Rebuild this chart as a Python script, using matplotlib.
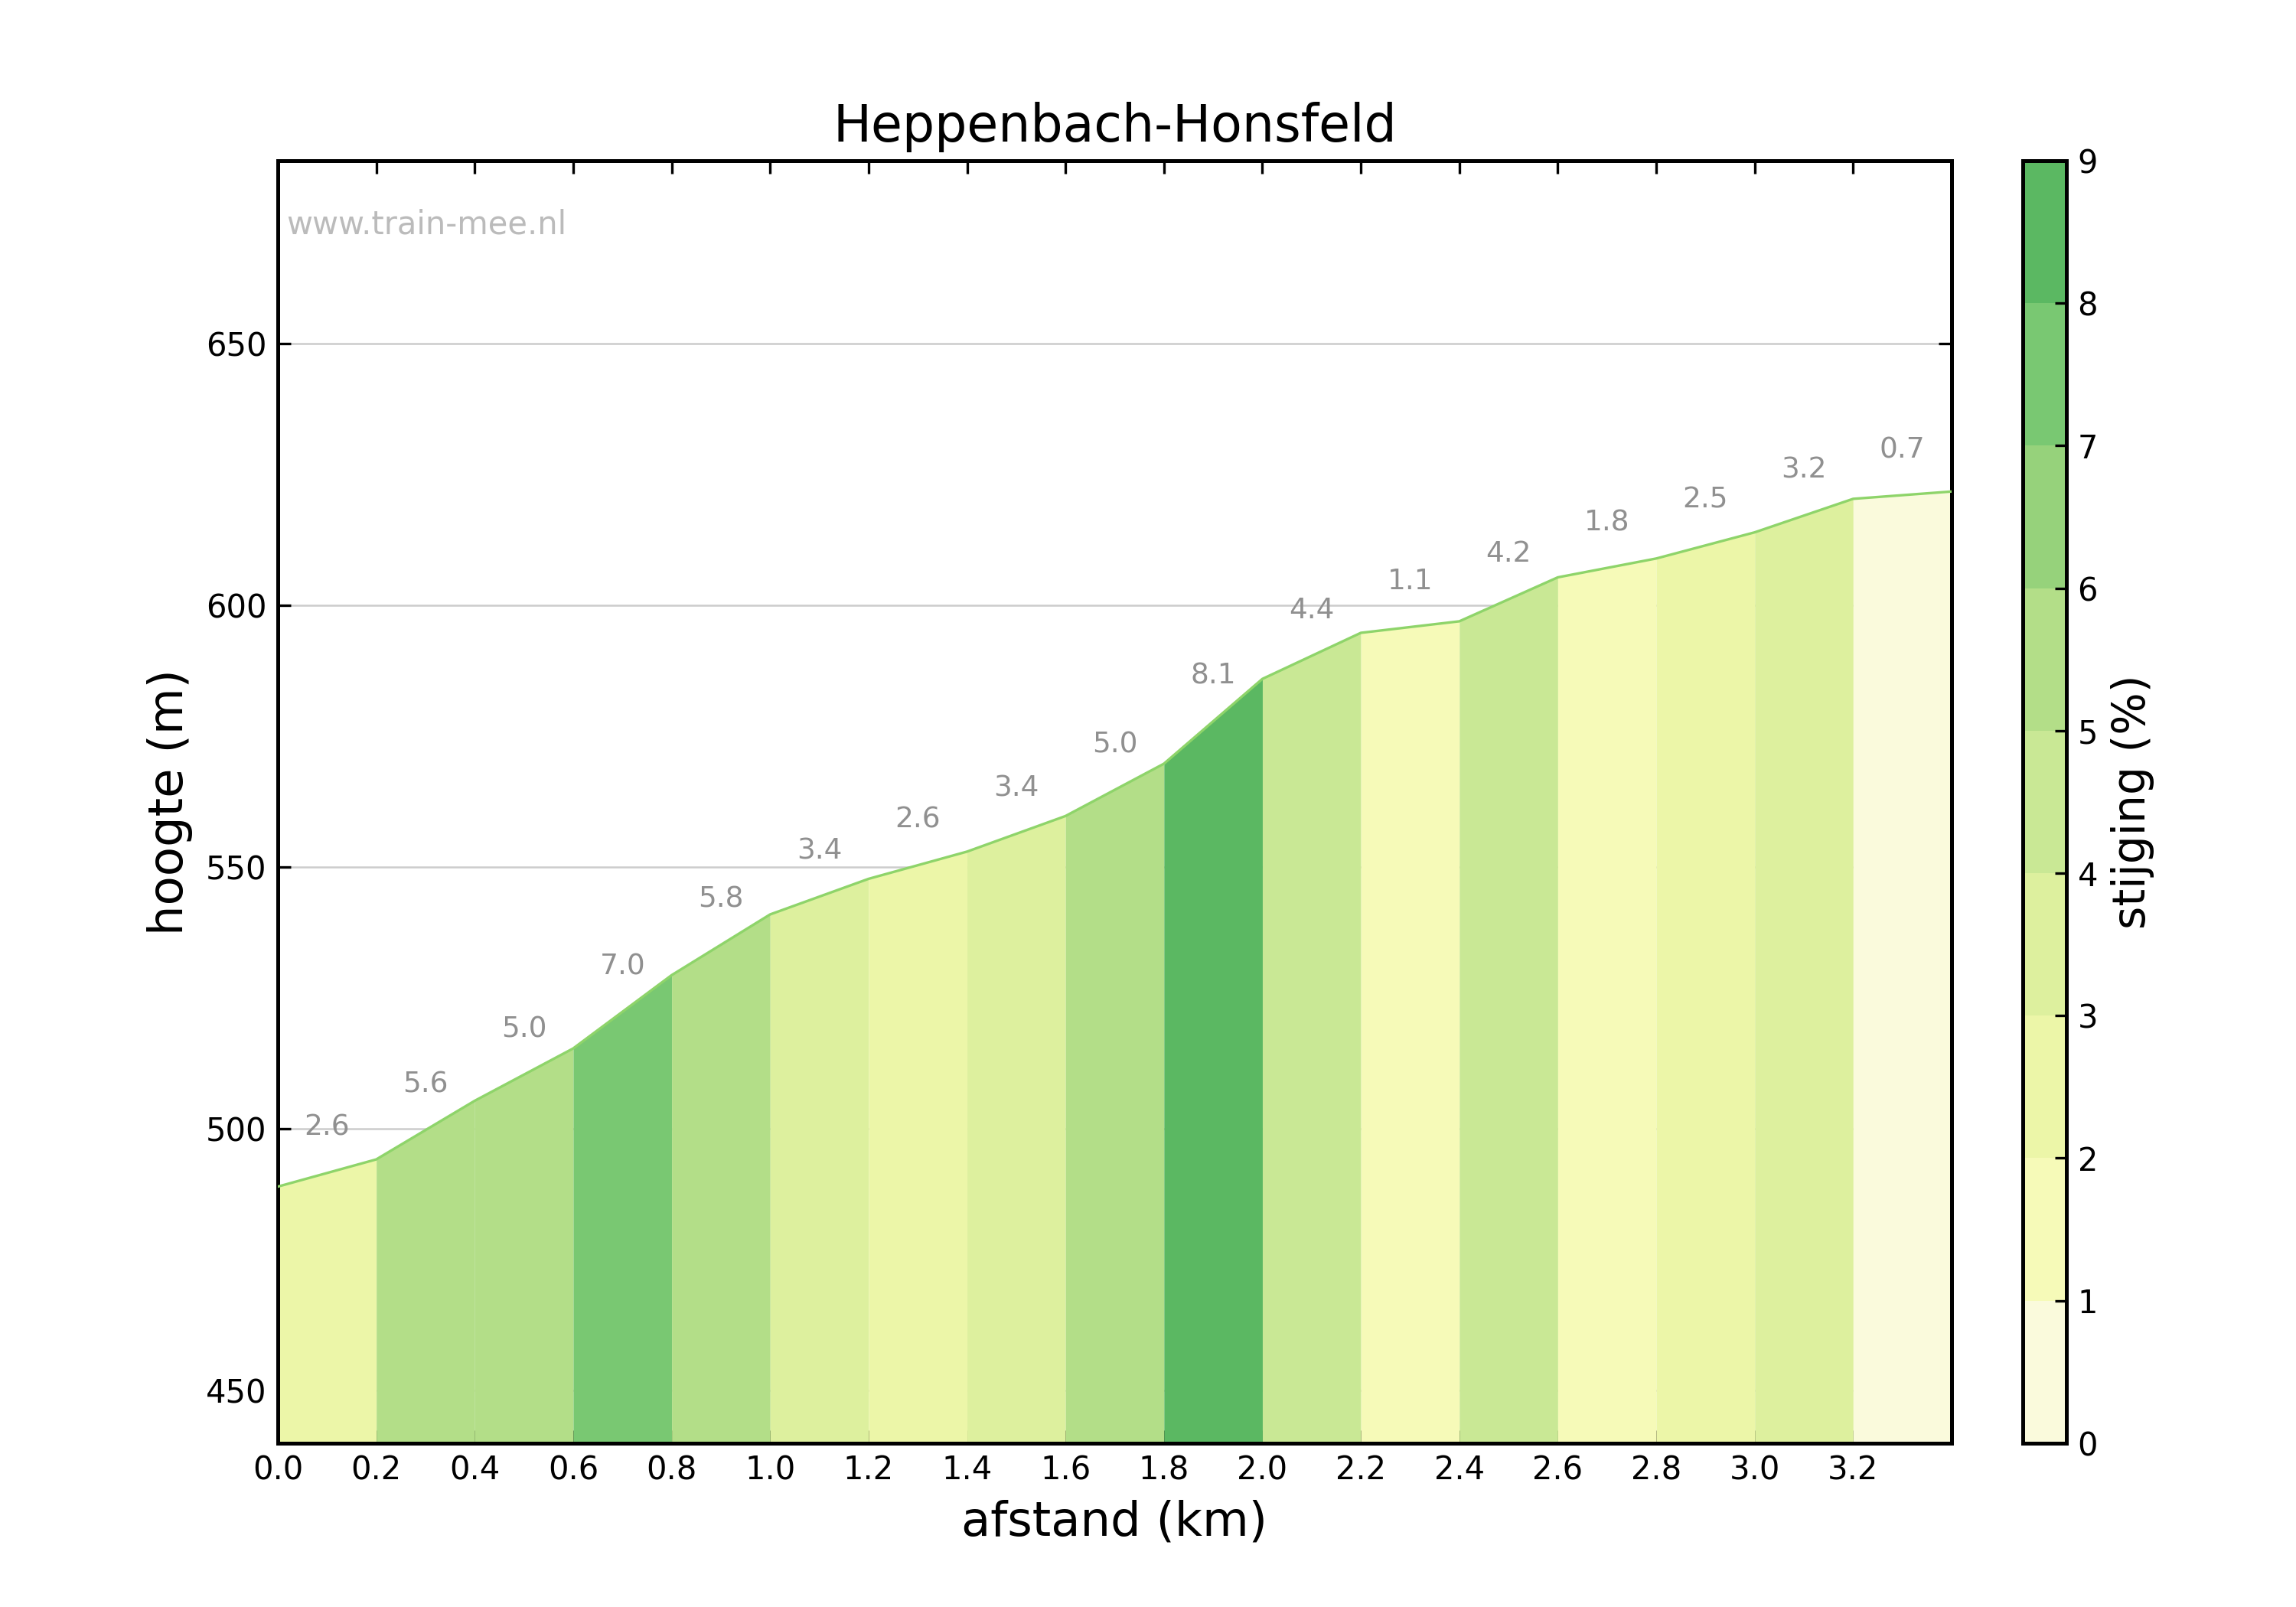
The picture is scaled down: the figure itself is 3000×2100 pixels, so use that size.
import matplotlib
matplotlib.use("Agg")
import matplotlib.pyplot as plt
from matplotlib.colors import ListedColormap, BoundaryNorm
from matplotlib.colorbar import ColorbarBase

dist = [0.0, 0.2, 0.4, 0.6, 0.8, 1.0, 1.2, 1.4, 1.6, 1.8, 2.0, 2.2, 2.4, 2.6, 2.8, 3.0, 3.2, 3.4]
elev = [489.0, 494.2, 505.4, 515.4, 529.4, 541.0, 547.8, 553.0, 559.8, 569.8, 586.0, 594.8, 597.0, 605.4, 609.0, 614.0, 620.4, 621.8]
grad = [2.6, 5.6, 5.0, 7.0, 5.8, 3.4, 2.6, 3.4, 5.0, 8.1, 4.4, 1.1, 4.2, 1.8, 2.5, 3.2, 0.7]
xticks = [0.0, 0.2, 0.4, 0.6, 0.8, 1.0, 1.2, 1.4, 1.6, 1.8, 2.0, 2.2, 2.4, 2.6, 2.8, 3.0, 3.2]
yticks = [450, 500, 550, 600, 650]

colors = ["#fafadc", "#f6fab8", "#ecf6a8", "#ddf09e", "#c9e895", "#b3de88", "#96d27b", "#79c872", "#5bb862"]
cmap = ListedColormap(colors)
norm = BoundaryNorm(list(range(10)), cmap.N)

fig = plt.figure(figsize=(10, 7), dpi=300)
ax = fig.add_axes([0.121, 0.102, 0.729, 0.798])
ymin, ymax = 440, 685
for i, g in enumerate(grad):
    ax.fill_between(dist[i:i+2], [ymin, ymin], elev[i:i+2], color=cmap(norm(g)), lw=0, zorder=2)
    ax.text((dist[i]+dist[i+1])/2, (elev[i]+elev[i+1])/2 + 6, f"{g:.1f}",
            ha="center", va="bottom", color="#909090", fontsize=9, zorder=4)
ax.plot(dist, elev, color="#8ed46a", lw=0.8, zorder=3)
ax.set_xlim(0, 3.4)
ax.set_ylim(ymin, ymax)
ax.set_xticks(xticks)
ax.set_xticklabels([f"{v:.1f}" for v in xticks], fontsize=10)
ax.set_yticks(yticks)
ax.tick_params(axis="y", labelsize=10)
ax.tick_params(direction="in", top=True, right=True, length=4)
ax.grid(axis="y", color="#cccccc", lw=0.6, zorder=1)
ax.set_axisbelow(True)
for s in ax.spines.values():
    s.set_linewidth(1.2)
ax.set_xlabel("afstand (km)", fontsize=15)
ax.set_ylabel("hoogte (m)", fontsize=15)
ax.set_title("Heppenbach-Honsfeld", fontsize=16)
ax.text(0.005, 0.95, "www.train-mee.nl", transform=ax.transAxes, color="#bbbbbb", fontsize=10, va="center")

cax = fig.add_axes([0.881, 0.102, 0.019, 0.798])
cb = ColorbarBase(cax, cmap=cmap, norm=norm, ticks=range(10))
cb.set_label("stijging (%)", fontsize=14)
cb.outline.set_linewidth(1.2)
cax.tick_params(labelsize=10, direction="in")
fig.savefig("out.png", dpi=300)
